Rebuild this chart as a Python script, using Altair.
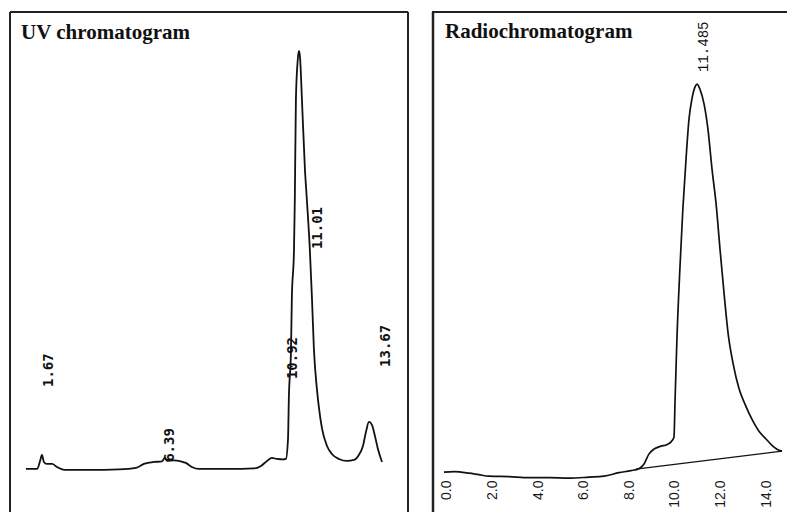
import altair as alt
import pandas as pd

# ---------------- UV chromatogram (left panel) ----------------
uv_t = [1.08, 1.49, 1.60, 1.67, 1.74, 1.85, 2.04, 2.22, 2.51, 3.39, 4.50, 5.12, 5.41, 5.78,
        6.07, 6.18, 6.26, 6.51, 6.77, 6.95, 7.17, 7.43, 8.53, 9.45, 9.71, 9.93, 10.11, 10.29,
        10.51, 10.62, 10.70, 10.73, 10.81, 10.84, 10.92, 10.95, 10.99, 11.06, 11.10, 11.14,
        11.21, 11.32, 11.39, 11.50, 11.58, 11.65, 11.76, 11.84, 11.95, 12.13, 12.31, 12.57,
        12.86, 13.12, 13.30, 13.45, 13.56, 13.67, 13.78, 13.89, 14.00, 14.15]
uv_s = [0.0, 0.0, 1.91, 3.35, 1.67, 1.20, 1.20, 0.48, -0.24, -0.24, -0.12, 0.24, 1.20, 1.67,
        1.79, 2.63, 1.91, 2.03, 1.79, 1.44, 0.48, 0.0, 0.0, 0.12, 0.72, 1.91, 2.63, 2.39,
        2.27, 2.39, 7.18, 16.75, 28.71, 40.67, 52.63, 64.59, 88.52, 98.09, 100.0, 98.56,
        88.52, 71.77, 64.59, 52.63, 40.67, 28.71, 19.14, 14.35, 9.57, 5.50, 3.59, 2.39,
        1.91, 2.15, 3.35, 5.50, 8.85, 11.24, 10.53, 7.89, 4.78, 1.67]

uv_labels = ["1.67", "6.39", "10.92", "11.01", "13.67"]
uv_label_t = [1.67, 6.12, 10.62, 11.54, 14.04]
uv_label_s = [19.6, 1.7, 21.5, 52.6, 24.4]

# ---------------- Radiochromatogram (right panel) ----------------
radio_t = [-0.13, 0.31, 0.97, 1.40, 1.84, 2.72, 3.60, 4.48, 5.35, 6.23, 6.89, 7.55, 8.07,
           8.42, 8.64, 8.86, 9.08, 9.39, 9.65, 9.82, 9.96, 10.01, 10.09, 10.22, 10.35, 10.49,
           10.62, 10.75, 10.88, 10.97, 11.10, 11.28, 11.45, 11.63, 11.81, 11.98, 12.16, 12.34,
           12.56, 12.82, 13.08, 13.38, 13.69, 14.00, 14.26, 14.48, 14.70]
radio_s = [0.51, 0.64, 0.26, -0.13, -0.51, -0.64, -0.90, -0.90, -1.03, -0.77, -0.51, 0.38, 0.90,
           1.41, 2.56, 5.13, 6.41, 7.18, 7.56, 8.21, 9.49, 19.2, 34.6, 52.6, 67.9, 80.8,
           91.0, 96.2, 99.2, 100.0, 98.7, 94.9, 88.5, 78.2, 69.2, 57.7, 46.2, 35.9,
           28.2, 21.8, 17.9, 14.1, 11.0, 9.0, 7.4, 6.4, 5.9]

radio_base_t = [8.29, 14.70]
radio_base_s = [1.28, 5.90]

radio_labels = ["11.485"]
radio_label_t = [10.97]
radio_label_s = [103.1]

radio_ticks = [0.0, 2.0, 4.0, 6.0, 8.0, 10.0, 12.0, 14.0]

panel_titles = ["UV chromatogram", "Radiochromatogram"]

# ---------------- sizes ----------------
LW, RW, H = 400, 356, 501
INK = "#111111"

uv_df = pd.DataFrame({"t": uv_t, "s": uv_s})
uv_lab_df = pd.DataFrame({"t": uv_label_t, "s": uv_label_s, "label": uv_labels})
radio_df = pd.DataFrame({"t": radio_t, "s": radio_s})
radio_base_df = pd.DataFrame({"t": radio_base_t, "s": radio_base_s})
radio_lab_df = pd.DataFrame({"t": radio_label_t, "s": radio_label_s, "label": radio_labels})

uv_x = alt.X("t:Q", scale=alt.Scale(domain=[0.46, 15.14], nice=False, zero=False), axis=None)
uv_y = alt.Y("s:Q", scale=alt.Scale(domain=[-10.3, 109.57], nice=False, zero=False), axis=None)

one = alt.Data(values=[{"title": panel_titles[0]}])
one_r = alt.Data(values=[{"title": panel_titles[1]}])

uv_line = alt.Chart(uv_df).mark_line(color=INK, strokeWidth=1.8, interpolate="monotone").encode(
    x=uv_x, y=uv_y)
uv_text = alt.Chart(uv_lab_df).mark_text(
    angle=270, align="left", baseline="top", font="DejaVu Sans Mono", fontWeight="bold",
    fontSize=14, color=INK).encode(x=uv_x, y=uv_y, text="label:N")
uv_title = alt.Chart(one).mark_text(
    align="left", baseline="alphabetic", font="Liberation Serif", fontWeight="bold",
    fontSize=21, color=INK).encode(x=alt.value(12), y=alt.value(28), text="title:N")
uv_left = alt.Chart(one).mark_rule(color="#222222", strokeWidth=2).encode(
    x=alt.value(1), y=alt.value(1), y2=alt.value(H))
uv_right = alt.Chart(one).mark_rule(color="#222222", strokeWidth=2).encode(
    x=alt.value(LW - 1), y=alt.value(1), y2=alt.value(H))
uv_top = alt.Chart(one).mark_rule(color="#222222", strokeWidth=2).encode(
    x=alt.value(1), x2=alt.value(LW - 1), y=alt.value(1))

left = alt.layer(uv_left, uv_right, uv_top, uv_line, uv_text, uv_title).properties(
    width=LW, height=H)

r_x = alt.X("t:Q", scale=alt.Scale(domain=[-0.70, 14.92], nice=False, zero=False),
            axis=alt.Axis(values=radio_ticks, format=".1f", labelAngle=270, domain=False,
                          ticks=False, grid=False, title=None, labelPadding=0, offset=-32,
                          labelFont="Liberation Sans", labelFontSize=14, labelColor="#1a1a1a",
                          labelFlush=False, labelOverlap=False))
r_y = alt.Y("s:Q", scale=alt.Scale(domain=[-9.7, 118.72], nice=False, zero=False), axis=None)

r_line = alt.Chart(radio_df).mark_line(color=INK, strokeWidth=1.7, interpolate="monotone").encode(
    x=r_x, y=r_y)
r_base = alt.Chart(radio_base_df).mark_line(color=INK, strokeWidth=1.2).encode(
    x=r_x, y=r_y)
r_text = alt.Chart(radio_lab_df).mark_text(
    angle=270, align="left", baseline="top", font="Liberation Mono",
    fontSize=14, color=INK).encode(x=r_x, y=r_y, text="label:N")
r_title = alt.Chart(one_r).mark_text(
    align="left", baseline="alphabetic", font="Liberation Serif", fontWeight="bold",
    fontSize=21, color=INK).encode(x=alt.value(14), y=alt.value(27), text="title:N")
r_left = alt.Chart(one_r).mark_rule(color="#222222", strokeWidth=2.5).encode(
    x=alt.value(2), y=alt.value(1), y2=alt.value(H))
r_top = alt.Chart(one_r).mark_rule(color="#222222", strokeWidth=2).encode(
    x=alt.value(1), x2=alt.value(RW), y=alt.value(1))

right = alt.layer(r_left, r_top, r_base, r_line, r_text, r_title).properties(
    width=RW, height=H)

chart = alt.hconcat(left, right, spacing=22).properties(
    padding={"left": 1, "top": 2, "right": 0, "bottom": 0},
    background="white",
).configure_view(strokeWidth=0)

chart.save("out.html", embed_options={"renderer": "svg", "actions": False})
